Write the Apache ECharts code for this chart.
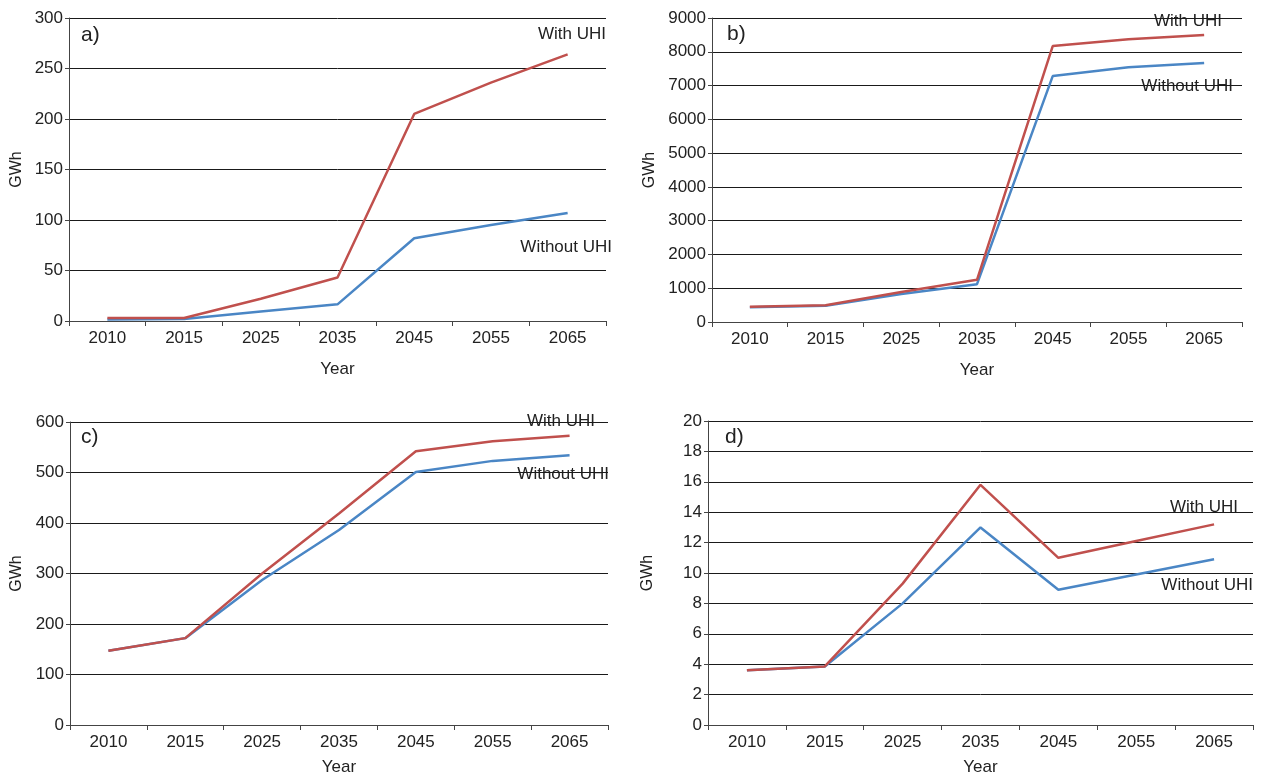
<!DOCTYPE html>
<html>
<head>
<meta charset="utf-8">
<script src="https://cdn.jsdelivr.net/npm/echarts@6/dist/echarts.min.js"></script>
<style>
  html, body { margin: 0; padding: 0; background: #fff; }
  #chart { width: 1262px; height: 779px; }
</style>
</head>
<body>
<div id="chart"></div>
<script>
// Projected electricity demand (GWh) for four cases, with and without the urban heat island
const years = ['2010', '2015', '2025', '2035', '2045', '2055', '2065'];

const aWith    = [3, 3, 22, 43, 205, 236, 264];
const aWithout = [1.5, 2, 9.5, 16.5, 82, 95, 107];

const bWith    = [450, 495, 890, 1250, 8170, 8370, 8500];
const bWithout = [440, 480, 830, 1120, 7280, 7540, 7670];

const cWith    = [147, 172, 300, 419, 542, 562, 573];
const cWithout = [147, 172, 287, 386, 501, 523, 534];

const dWith    = [3.6, 3.85, 9.3, 15.8, 11.0, 12.1, 13.2];
const dWithout = [3.6, 3.85, 8.0, 13.0, 8.9, 9.9, 10.9];

const yMax      = [300, 9000, 600, 20];
const yInterval = [50, 1000, 100, 2];
const panelTags = ['a)', 'b)', 'c)', 'd)'];
const withLabel = 'With UHI';
const withoutLabel = 'Without UHI';

const RED = '#C0504D';
const BLUE = '#4A86C5';
const INK = '#222';
const FONT = '"Liberation Sans", Arial, sans-serif';
const FS = 17;

const grids = [
  { left: 69,  top: 18,  width: 537, height: 303 },
  { left: 712, top: 18,  width: 530, height: 304 },
  { left: 70,  top: 422, width: 538, height: 303 },
  { left: 708, top: 421, width: 545, height: 304 }
];
const yNameGaps = [44, 54, 45, 52];
const xNameGaps = [40, 40, 34, 34];

const panels = [
  [aWith, aWithout], [bWith, bWithout], [cWith, cWithout], [dWith, dWithout]
];

const xAxes = grids.map((g, i) => ({
  type: 'category',
  gridIndex: i,
  data: years,
  boundaryGap: true,
  name: 'Year',
  nameLocation: 'middle',
  nameGap: xNameGaps[i],
  nameTextStyle: { color: INK, fontSize: FS, fontFamily: FONT },
  axisLine: { lineStyle: { color: '#444', width: 1 } },
  axisTick: { show: true, length: 5, lineStyle: { color: '#444' } },
  axisLabel: { color: INK, fontSize: FS, fontFamily: FONT, margin: 9 },
  splitLine: { show: false }
}));

const yAxes = grids.map((g, i) => ({
  type: 'value',
  gridIndex: i,
  min: 0,
  max: yMax[i],
  interval: yInterval[i],
  name: 'GWh',
  nameLocation: 'middle',
  nameGap: yNameGaps[i],
  nameRotate: 90,
  nameTextStyle: { color: INK, fontSize: 16, fontFamily: FONT },
  axisLine: { show: true, lineStyle: { color: '#444', width: 1 } },
  axisTick: { show: true, length: 4, lineStyle: { color: '#444' } },
  axisLabel: {
    color: INK, fontSize: FS, fontFamily: FONT, margin: 6,
    formatter: (v) => String(v)
  },
  splitLine: { show: true, lineStyle: { color: '#1a1a1a', width: 1 } }
}));

const series = [];
panels.forEach((p, i) => {
  series.push({
    type: 'line', name: withoutLabel, xAxisIndex: i, yAxisIndex: i,
    data: p[1], symbol: 'none', lineStyle: { color: BLUE, width: 2.5 },
    itemStyle: { color: BLUE }, animation: false, z: 3
  });
  series.push({
    type: 'line', name: withLabel, xAxisIndex: i, yAxisIndex: i,
    data: p[0], symbol: 'none', lineStyle: { color: RED, width: 2.5 },
    itemStyle: { color: RED }, animation: false, z: 4
  });
});

// Panel tags and in-plot series labels
const textStyle = (t, x, y, size, align) => ({
  type: 'text', x: x, y: y, z: -1,
  style: {
    text: t, fill: INK, fontSize: size, fontFamily: FONT,
    textAlign: align, textVerticalAlign: 'middle'
  }
});

const graphic = [
  textStyle(panelTags[0], 81, 35, 21, 'left'),
  textStyle(panelTags[1], 727, 34, 21, 'left'),
  textStyle(panelTags[2], 81, 437, 21, 'left'),
  textStyle(panelTags[3], 725, 437, 21, 'left'),

  textStyle(withLabel, 606, 34, FS, 'right'),
  textStyle(withoutLabel, 612, 247, FS, 'right'),

  textStyle(withLabel, 1222, 21, FS, 'right'),
  textStyle(withoutLabel, 1233, 86, FS, 'right'),

  textStyle(withLabel, 595, 421, FS, 'right'),
  textStyle(withoutLabel, 609, 474, FS, 'right'),

  textStyle(withLabel, 1238, 507, FS, 'right'),
  textStyle(withoutLabel, 1253, 585, FS, 'right')
];

const chart = echarts.init(document.getElementById('chart'), null, { renderer: 'canvas' });
chart.setOption({
  backgroundColor: '#fff',
  animation: false,
  grid: grids,
  xAxis: xAxes,
  yAxis: yAxes,
  series: series,
  graphic: graphic
});
</script>
</body>
</html>
